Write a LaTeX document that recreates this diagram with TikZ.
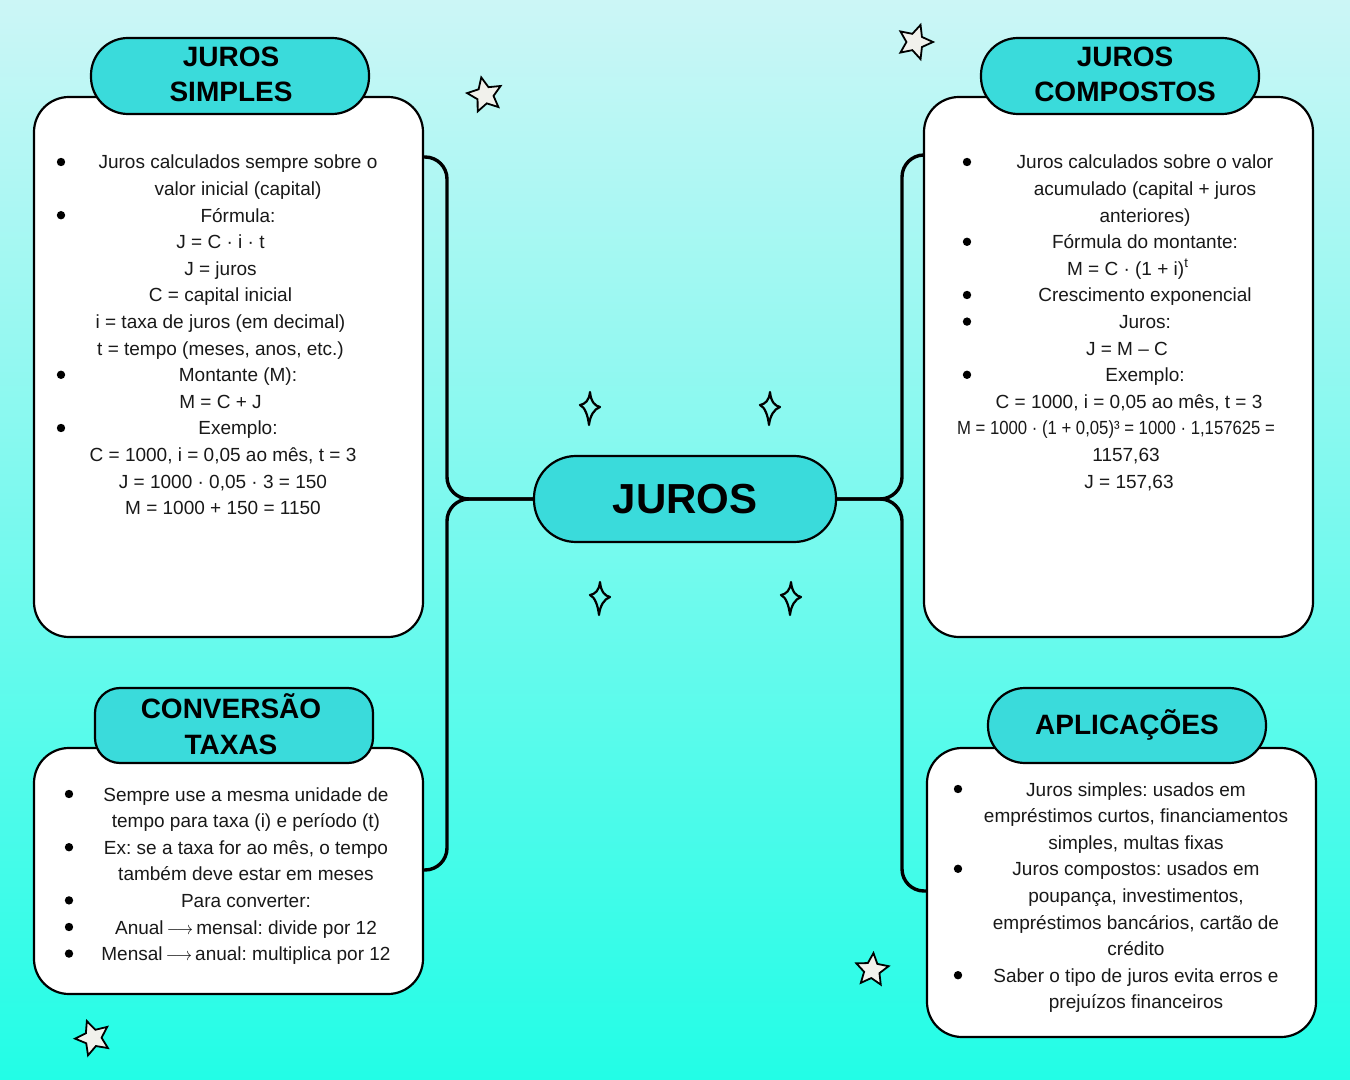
\documentclass[tikz,border=0pt]{standalone}
\usepackage{fontspec}
\setmainfont{Liberation Sans}
\usetikzlibrary{shapes.geometric}
\definecolor{bgtop}{HTML}{CCF6F6}
\definecolor{bgbot}{HTML}{22FDE6}
\definecolor{pillfill}{HTML}{3ADBDB}
\definecolor{starfill}{HTML}{F1F1EC}
\newcommand{\myarr}{\,\scalebox{0.88}[1]{$\longrightarrow$}\,}
\begin{document}
\frenchspacing
\begin{tikzpicture}[x=0.5pt,y=-0.5pt,
 box/.style={draw=black, line width=1.1pt, fill=white, rounded corners=17.5pt, minimum width=194.5pt, inner sep=0pt},
 pill/.style={draw=black, line width=1.1pt, fill=pillfill, rounded corners=18.5pt, minimum width=139pt, minimum height=38pt, inner sep=0pt},
 conn/.style={draw=black, line width=1.7pt},
 txt/.style={anchor=base, inner sep=0pt, font=\fontsize{9.5}{12}\selectfont\frenchspacing, text=black!90},
 ttl/.style={anchor=base, inner sep=0pt, font=\fontsize{14}{16}\selectfont\bfseries},
 bigstar/.style={star, star points=5, star point ratio=2.1, draw=black, line width=0.9pt, fill=starfill, minimum size=18pt, inner sep=0pt},
 sparkle/.pic={\draw[line width=1.1pt, line join=round] (0,-16) .. controls (1,-6) and (5,-2) .. (10,-1) .. controls (4,1) and (0,8) .. (-1,17) .. controls (-2,8) and (-5,-1) .. (-10,-3) .. controls (-5,-4) and (-1,-7) .. (0,-16) -- cycle;}
]
\useasboundingbox (0,0) rectangle (1350,1080);
\shade[top color=bgtop, bottom color=bgbot] (0,0) rectangle (1350,1080);

% center
\node[pill, minimum width=151pt, minimum height=43pt, rounded corners=21pt, font=\fontsize{21}{24}\selectfont\bfseries] (juros) at (685,499) {JUROS};

% connectors
\draw[conn, rounded corners=11pt] (juros.west) -- (447,499) -- (447,157) -- (423,157);
\draw[conn, rounded corners=11pt] (juros.west) -- (447,499) -- (447,870) -- (423,870);
\draw[conn, rounded corners=11pt] (juros.east) -- (902,499) -- (902,155) -- (924,155);
\draw[conn, rounded corners=11pt] (juros.east) -- (902,499) -- (902,891) -- (927,891);

% boxes
\node[box, minimum height=270pt] (sbox) at (228.5,367) {};
\node[box, minimum height=270pt] (cbox) at (1118.5,367) {};
\node[box, minimum height=123pt] (vbox) at (228.5,871) {};
\node[box, minimum height=144.5pt] (abox) at (1121.5,892.5) {};

% title pills
\node[pill] (sp) at (230,76) {};
\node[ttl] (st1) at (231,67) {JUROS};
\node[ttl] (st2) at (231,102) {SIMPLES};
\node[pill] (cp) at (1120,76) {};
\node[ttl] (ct1) at (1125,67) {JUROS};
\node[ttl] (ct2) at (1125,102) {COMPOSTOS};
\node[pill, minimum height=37.5pt, rounded corners=12.5pt] (vp) at (234,725.5) {};
\node[ttl] (vt1) at (231,718) {CONVERSÃO};
\node[ttl] (vt2) at (231,754) {TAXAS};
\node[pill, minimum height=37.5pt] (ap) at (1127,725.5) {};
\node[ttl] (at1) at (1127,734) {APLICAÇÕES};

% texts top-left
\foreach \dx/\tx [count=\i] in {
0/{Juros calculados sempre sobre o},
0/{valor inicial (capital)},
0/{Fórmula:},
-17.5/{J = C · i · t},
-17.5/{J = juros},
-17.5/{C = capital inicial},
-17.5/{i = taxa de juros (em decimal)},
-17.5/{t = tempo (meses, anos, etc.)},
0/{Montante (M):},
-17.5/{M = C + J},
0/{Exemplo:},
-15/{C = 1000, i = 0,05 ao mês, t = 3},
-15/{J = 1000 · 0,05 · 3 = 150},
-15/{M = 1000 + 150 = 1150}}
\node[txt] (sl\i) at (238+\dx,169+26.6*\i-26.6) {\tx};
\foreach \k in {1,3,9,11} \fill (61,162+26.6*\k-26.6) circle[radius=2.1pt];

% texts top-right
\foreach \dx/\tx [count=\i] in {
0/{Juros calculados sobre o valor},
0/{acumulado (capital + juros},
0/{anteriores)},
0/{Fórmula do montante:},
-17/{M = C · (1 + i)\textsuperscript{t}},
0/{Crescimento exponencial},
0/{Juros:},
-18/{J = M – C},
0/{Exemplo:},
-16/{C = 1000, i = 0,05 ao mês, t = 3},
-29/{\scalebox{0.88}[1]{M = 1000 · (1 + 0,05)³ = 1000 · 1,157625 =}},
-19/{1157,63},
-16/{J = 157,63}}
\node[txt] (cl\i) at (1145+\dx,169+26.6*\i-26.6) {\tx};
\foreach \k in {1,4,6,7,9} \fill (967,162+26.6*\k-26.6) circle[radius=2.1pt];

% texts bottom-left
\foreach \tx [count=\i] in {
{Sempre use a mesma unidade de},
{tempo para taxa (i) e período (t)},
{Ex: se a taxa for ao mês, o tempo},
{também deve estar em meses},
{Para converter:},
{Anual\myarr mensal: divide por 12},
{Mensal\myarr anual: multiplica por 12}}
\node[txt] (vl\i) at (246,801+26.6*\i-26.6) {\tx};
\foreach \k in {1,3,5,6,7} \fill (69,794+26.6*\k-26.6) circle[radius=2.1pt];

% texts bottom-right
\foreach \tx [count=\i] in {
{Juros simples: usados em},
{empréstimos curtos, financiamentos},
{simples, multas fixas},
{Juros compostos: usados em},
{poupança, investimentos,},
{empréstimos bancários, cartão de},
{crédito},
{Saber o tipo de juros evita erros e},
{prejuízos financeiros}}
\node[txt] (al\i) at (1136,796+26.6*\i-26.6) {\tx};
\foreach \k in {1,4,8} \fill (958,789+26.6*\k-26.6) circle[radius=2.1pt];

% sparkles
\pic at (590,408) {sparkle};
\pic at (770,408) {sparkle};
\pic at (600,598) {sparkle};
\pic at (791,598) {sparkle};

% stars
\node[bigstar, rotate=12] (s1) at (485,95) {};
\node[bigstar, rotate=-18] (s2) at (915,42) {};
\node[bigstar, rotate=20] (s3) at (93,1038) {};
\node[bigstar, rotate=-5, minimum size=17pt] (s4) at (872,970) {};
\end{tikzpicture}
\end{document}
